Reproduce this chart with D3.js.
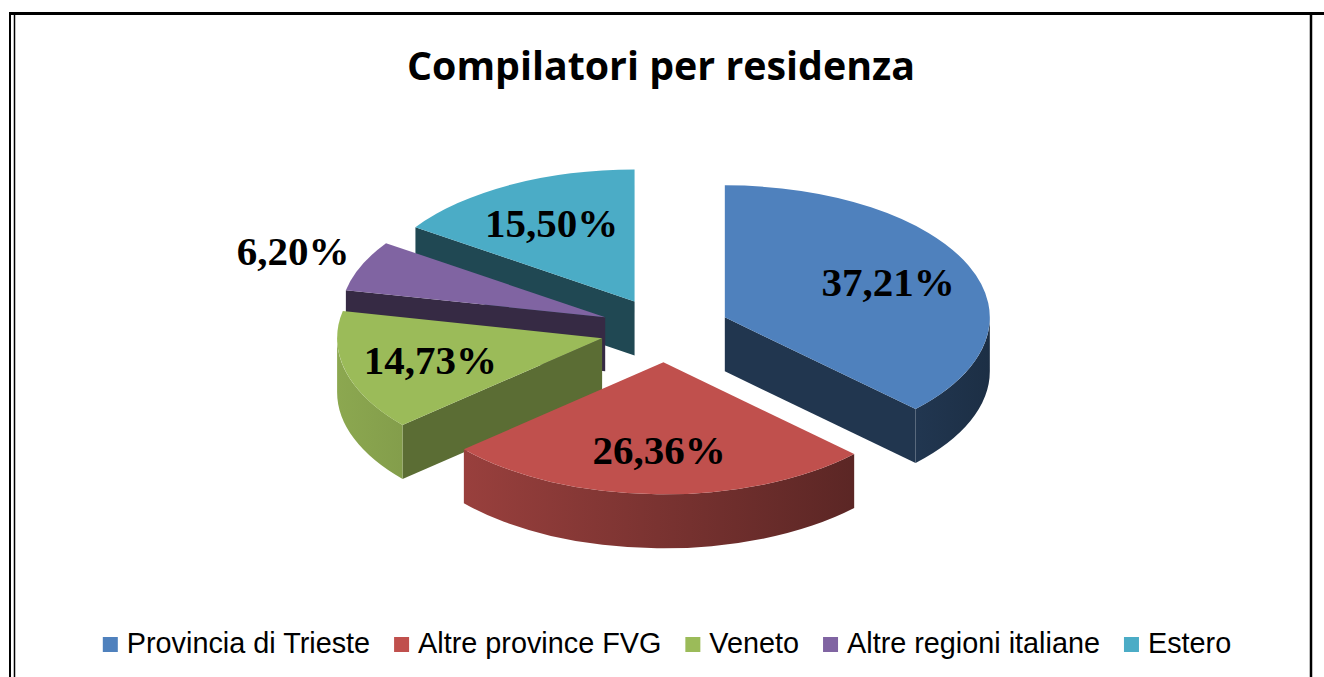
<!DOCTYPE html>
<html>
<head>
<meta charset="utf-8">
<script src="https://cdn.jsdelivr.net/npm/d3@7"></script>
<style>
  body { margin: 0; background: #fff; }
  svg { display: block; }
</style>
</head>
<body>
<div id="chart"></div>
<script>
var title = "Compilatori per residenza";
var categories = ["Provincia di Trieste", "Altre province FVG", "Veneto", "Altre regioni italiane", "Estero"];
var values = [37.21, 26.36, 14.73, 6.20, 15.50];
var colors = ["#4f81bd", "#c0504d", "#9bbb59", "#8064a2", "#4bacc6"];

var W = 1324, H = 677;

var svg = d3.select("#chart")
            .append("svg")
            .attr("width", W)
            .attr("height", H);

// page frame (double line on the left, single on top and right)
var frame = svg.append("g").attr("stroke", "#000").attr("fill", "none");
frame.append("line").attr("x1", 9).attr("x2", W).attr("y1", 13.5).attr("y2", 13.5).attr("stroke-width", 3);
frame.append("line").attr("x1", 10).attr("x2", 10).attr("y1", 12).attr("y2", H).attr("stroke-width", 2);
frame.append("line").attr("x1", 14.5).attr("x2", 14.5).attr("y1", 12).attr("y2", H).attr("stroke-width", 1.5);
frame.append("line").attr("x1", 1311).attr("x2", 1311).attr("y1", 12).attr("y2", H).attr("stroke-width", 2.5);

// title
svg.append("text")
    .attr("x", 661)
    .attr("y", 80)
    .attr("text-anchor", "middle")
    .attr("textLength", 508)
    .attr("lengthAdjust", "spacingAndGlyphs")
    .style("font-family", "'Open Sans', Lato, sans-serif")
    .style("font-weight", "bold")
    .style("font-size", "40px")
    .text(title);

// 3D exploded pie
var cx = 665, cy = 330, rx = 265, ry = 132, depth = 54, explode = 65;
var k = ry / rx;

var pie = d3.pie().sort(null).value(function(d){ return d; });
var slices = pie(values);

function shade(c, f) {
    var r = d3.rgb(c);
    return d3.rgb(r.r * f, r.g * f, r.b * f).formatHex();
}

function pt(o, a) {
    return [o[0] + rx * Math.sin(a), o[1] - ry * Math.cos(a)];
}

slices.forEach(function(d, i) {
    var mid = (d.startAngle + d.endAngle) / 2;
    d.index = i;
    d.mid = mid;
    d.o = [cx + explode * Math.sin(mid), cy - explode * k * Math.cos(mid)];
});

// outer wall lighting, lighter on the left
var defs = svg.append("defs");
slices.forEach(function(d, i) {
    var g = defs.append("linearGradient")
        .attr("id", "wall-" + i)
        .attr("gradientUnits", "userSpaceOnUse")
        .attr("x1", cx - rx - explode).attr("x2", cx + rx + explode)
        .attr("y1", 0).attr("y2", 0);
    g.append("stop").attr("offset", "0%").attr("stop-color", shade(colors[i], 0.9));
    g.append("stop").attr("offset", "100%").attr("stop-color", shade(colors[i], 0.36));
});

// back slices first
var order = slices.slice().sort(function(a, b){ return a.o[1] - b.o[1]; });

var pieG = svg.append("g");

order.forEach(function(d) {
    var g = pieG.append("g").attr("class", "slice");
    var c = colors[d.index];
    var o = d.o;
    var faces = [];
    // radial faces turned toward the viewer
    if (Math.sin(d.startAngle) < -1e-6) faces.push({a: d.startAngle, n: d.startAngle - Math.PI / 2});
    if (Math.sin(d.endAngle) > 1e-6) faces.push({a: d.endAngle, n: d.endAngle + Math.PI / 2});
    faces.forEach(function(f) {
        var p = pt(o, f.a);
        var light = 0.42 + 0.25 * Math.max(0, Math.sin(f.n));
        g.append("path")
            .attr("d", "M" + o[0] + "," + o[1] +
                       "L" + p[0] + "," + p[1] +
                       "L" + p[0] + "," + (p[1] + depth) +
                       "L" + o[0] + "," + (o[1] + depth) + "Z")
            .attr("fill", shade(c, light));
    });
    // outer wall on the front half
    var b0 = Math.max(d.startAngle, Math.PI / 2), b1 = Math.min(d.endAngle, 3 * Math.PI / 2);
    if (b1 > b0) {
        var p0 = pt(o, b0), p1 = pt(o, b1);
        g.append("path")
            .attr("d", "M" + p0[0] + "," + p0[1] +
                       "A" + rx + "," + ry + " 0 0 1 " + p1[0] + "," + p1[1] +
                       "L" + p1[0] + "," + (p1[1] + depth) +
                       "A" + rx + "," + ry + " 0 0 0 " + p0[0] + "," + (p0[1] + depth) + "Z")
            .attr("fill", "url(#wall-" + d.index + ")");
    }
    // top face
    var s = pt(o, d.startAngle), e = pt(o, d.endAngle);
    var large = (d.endAngle - d.startAngle) > Math.PI ? 1 : 0;
    g.append("path")
        .attr("d", "M" + o[0] + "," + o[1] +
                   "L" + s[0] + "," + s[1] +
                   "A" + rx + "," + ry + " 0 " + large + " 1 " + e[0] + "," + e[1] + "Z")
        .attr("fill", c);
});

// data labels (small slices get the label outside)
var fmt = d3.format(".2f");
function lblR(d){ return d.data < 10 ? 1.28 : 0.67; }
pieG.selectAll("text.lbl")
    .data(slices)
    .join("text")
    .attr("class", "lbl")
    .attr("x", function(d){ return d.o[0] + lblR(d) * rx * Math.sin(d.mid); })
    .attr("y", function(d){ return d.o[1] - lblR(d) * ry * Math.cos(d.mid); })
    .attr("dy", "0.33em")
    .attr("text-anchor", "middle")
    .style("font-family", "'Liberation Serif', 'DejaVu Serif', serif")
    .style("font-weight", "bold")
    .style("font-size", "41px")
    .text(function(d){ return fmt(d.data).replace(".", ",") + "%"; });

// legend
var legend = svg.append("g")
    .style("font-family", "'Liberation Sans', Arial, sans-serif")
    .style("font-size", "28.8px");

var items = legend.selectAll("g")
    .data(categories)
    .join("g");

items.append("rect")
    .attr("x", 0).attr("y", 637)
    .attr("width", 15).attr("height", 15)
    .attr("fill", function(d, i){ return colors[i]; });

items.append("text")
    .attr("x", 24).attr("y", 652.5)
    .attr("fill", "#000")
    .text(function(d){ return d; });

var xpos = 0;
items.each(function() {
    var w = d3.select(this).select("text").node().getComputedTextLength();
    d3.select(this).attr("transform", "translate(" + xpos + ",0)");
    xpos += 24 + w + 24;
});
var total = xpos - 24;
legend.attr("transform", "translate(" + (667 - total / 2) + ",0)");
</script>
</body>
</html>
